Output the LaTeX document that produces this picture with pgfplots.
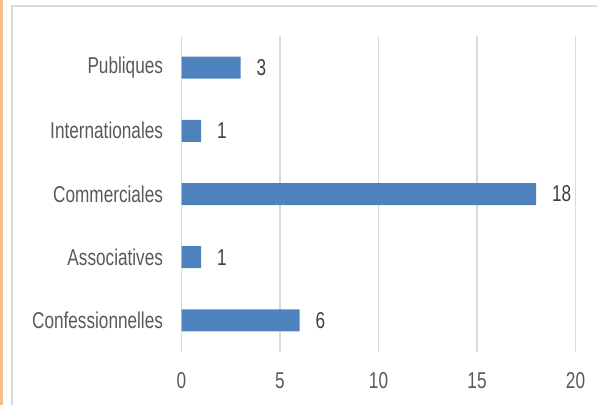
\documentclass[border=0pt]{standalone}
\usepackage{fontspec}
\setmainfont[FakeStretch=0.75]{Liberation Sans}
\usepackage{pgfplots}
\pgfplotsset{compat=1.18}
\definecolor{barblue}{RGB}{79,129,189}
\definecolor{gridgrey}{RGB}{217,217,217}
\definecolor{txtgrey}{RGB}{89,89,89}
\definecolor{valgrey}{RGB}{64,64,64}
\definecolor{orangeline}{RGB}{247,190,140}
\begin{document}
\begin{tikzpicture}[x=1bp,y=1bp]
\useasboundingbox (0,0) rectangle (597,405);
\fill[orangeline] (0,0) rectangle (3,405);
\draw[gridgrey, line width=1.5bp] (12,0) -- (12,399) -- (597,399);
\begin{axis}[
  at={(181.5bp,53bp)}, anchor=south west,
  scale only axis, width=394bp, height=316bp,
  xbar, bar width=22bp,
  xmin=0, xmax=20, ymin=-0.5, ymax=4.5,
  xtick={0,5,10,15,20}, ytick={0,1,2,3,4},
  yticklabels={Confessionnelles,Associatives,Commerciales,Internationales,Publiques},
  axis line style={draw=none},
  major tick length=0pt,
  xmajorgrids, ymajorgrids=false,
  grid style={gridgrey, line width=1.5bp},
  ticklabel style={font=\fontsize{23}{26}\selectfont, text=txtgrey},
  /pgf/number format/assume math mode=true,
  xticklabel style={yshift=-17bp},
  yticklabel style={xshift=-15bp},
  nodes near coords,
  nodes near coords style={font=\fontsize{23}{26}\selectfont, text=valgrey, anchor=west, xshift=12.5bp},
]
\addplot[fill=barblue, draw=none] coordinates {(6,0) (1,1) (18,2) (1,3) (3,4)};
\end{axis}
\end{tikzpicture}
\end{document}
